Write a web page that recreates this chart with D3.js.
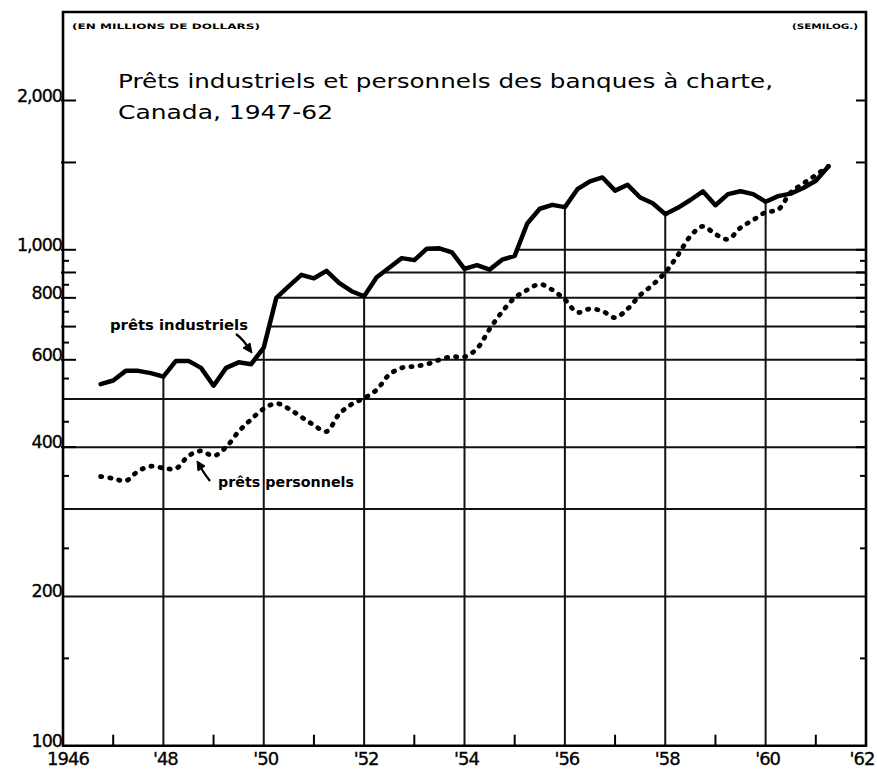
<!DOCTYPE html>
<html><head><meta charset="utf-8">
<script src="https://cdn.jsdelivr.net/npm/d3@7"></script>
<style>body{margin:0;background:#fff}svg{display:block}</style>
</head><body><svg id="c" width="877" height="769"></svg>
<script>
// ---- data (millions of dollars, quarterly) ----
const quarters = [1946.75,
  1947.00,1947.25,1947.50,1947.75,1948.00,1948.25,1948.50,1948.75,
  1949.00,1949.25,1949.50,1949.75,1950.00,1950.25,1950.50,1950.75,
  1951.00,1951.25,1951.50,1951.75,1952.00,1952.25,1952.50,1952.75,
  1953.00,1953.25,1953.50,1953.75,1954.00,1954.25,1954.50,1954.75,
  1955.00,1955.25,1955.50,1955.75,1956.00,1956.25,1956.50,1956.75,
  1957.00,1957.25,1957.50,1957.75,1958.00,1958.25,1958.50,1958.75,
  1959.00,1959.25,1959.50,1959.75,1960.00,1960.25,1960.50,1960.75,
  1961.00,1961.25];
const industriels = [536,
  545,570,570,564,555,597,597,578,
  532,578,593,588,635,800,845,890,
  876,907,858,825,806,880,920,962,
  953,1005,1007,988,915,931,912,955,
  972,1130,1210,1232,1219,1325,1374,1399,
  1316,1352,1275,1241,1180,1215,1260,1312,
  1230,1295,1312,1295,1250,1283,1298,1332,
  1378,1472];
const personnels = [349,
  346,342,358,366,363,362,384,393,
  384,400,430,455,478,490,478,460,
  443,430,466,488,502,522,560,578,
  582,588,600,609,608,632,692,750,
  800,830,852,830,793,748,760,752,
  730,760,810,850,900,975,1065,1115,
  1075,1050,1108,1148,1190,1205,1305,1360,
  1415,1474];

const yLabelValues = [100,200,400,600,800,1000,2000];
const yLabelTexts  = ["100","200","400","600","800","1,000","2,000"];
const yMajorTicks  = [400,600,700,800,900,1000,1500,2000];
const yMinorTicks  = [150,250,350,450,550,650,750,850,950];
const yGridValues  = [200,300,400,500,600,700,800,900,1000];
const xGridYears   = [1948,1950,1952,1954,1956,1958,1960];
const xMinorYears  = [1947,1949,1951,1953,1955,1957,1959,1961];
const xLabelYears  = [1946,1948,1950,1952,1954,1956,1958,1960,1962];
const xLabelTexts  = ["1946","'48","'50","'52","'54","'56","'58","'60","'62"];

// ---- layout ----
const L = 63, R = 866, T = 12, B = 745.7;
const svg = d3.select("#c");
const x = d3.scaleLinear().domain([1946,1962]).range([L,R]);
const y = d3.scaleLog().domain([100,2000]).range([B,100.5]);
const FONT = "'DejaVu Sans', sans-serif";

const indPts = quarters.map((q,i)=>[q, industriels[i]]);
const perPts = quarters.map((q,i)=>[q, personnels[i]]);

// clip: region under the industrial curve
const clipData = [[1946, industriels[0]], ...indPts, [1962, industriels[industriels.length-1]]];
svg.append("clipPath").attr("id","under")
  .append("path")
  .attr("d", d3.area().x(d=>x(d[0])).y0(B).y1(d=>y(d[1]))(clipData));

const grid = svg.append("g").attr("clip-path","url(#under)")
  .attr("stroke","#111").attr("stroke-width",2);
grid.selectAll("line.h").data(yGridValues).join("line")
  .attr("x1",L).attr("x2",R).attr("y1",d=>y(d)).attr("y2",d=>y(d));
grid.selectAll("line.v").data(xGridYears).join("line")
  .attr("x1",d=>x(d)).attr("x2",d=>x(d)).attr("y1",B).attr("y2",T);

// frame
const frame = svg.append("g").attr("stroke","#000").attr("fill","none");
frame.append("path").attr("stroke-width",2.6)
  .attr("d",`M${L},${B}V${T}H${R}V${B}H${L}Z`);

// ticks
const ticks = svg.append("g").attr("stroke","#000").attr("stroke-width",2);
ticks.selectAll("line.lm").data(yMajorTicks).join("line")
  .attr("x1",L-2).attr("x2",L+13).attr("y1",d=>y(d)).attr("y2",d=>y(d));
ticks.selectAll("line.ln").data(yMinorTicks).join("line")
  .attr("x1",L).attr("x2",L+6).attr("y1",d=>y(d)).attr("y2",d=>y(d));
ticks.selectAll("line.rm").data(yMajorTicks).join("line")
  .attr("x1",R-10).attr("x2",R).attr("y1",d=>y(d)).attr("y2",d=>y(d));
ticks.selectAll("line.rn").data(yMinorTicks).join("line")
  .attr("x1",R-6).attr("x2",R).attr("y1",d=>y(d)).attr("y2",d=>y(d));
ticks.selectAll("line.xm").data(xMinorYears).join("line")
  .attr("x1",d=>x(d)).attr("x2",d=>x(d)).attr("y1",B).attr("y2",B-11);

// y labels
svg.append("g").selectAll("text").data(yLabelValues).join("text")
  .attr("x",L-1).attr("y",d=>y(d)+1).attr("text-anchor","end")
  .attr("font-family",FONT).attr("font-size",17.5).attr("letter-spacing",-1)
  .attr("stroke","#000").attr("stroke-width",0.3)
  .text((d,i)=>yLabelTexts[i]);

// x labels
svg.append("g").selectAll("text").data(xLabelYears).join("text")
  .attr("x",(d,i)=> i===0 ? x(d)+5 : (i===xLabelYears.length-1 ? x(d)-4 : x(d)+2))
  .attr("y",765).attr("text-anchor","middle")
  .attr("font-family",FONT).attr("font-size",18).attr("letter-spacing",-1)
  .attr("stroke","#000").attr("stroke-width",0.3)
  .text((d,i)=>xLabelTexts[i]);

// lines
svg.append("path").attr("fill","none").attr("stroke","#000").attr("stroke-width",4.5)
  .attr("stroke-linejoin","round").attr("stroke-linecap","round")
  .attr("d", d3.line().x(d=>x(d[0])).y(d=>y(d[1]))(indPts));
svg.append("path").attr("fill","none").attr("stroke","#000").attr("stroke-width",4.8)
  .attr("stroke-linecap","round").attr("stroke-dasharray","1.2 8")
  .attr("d", d3.line().x(d=>x(d[0])).y(d=>y(d[1])).curve(d3.curveCatmullRom)(perPts));

// texts
svg.append("text").attr("x",72).attr("y",29).attr("font-family",FONT)
  .attr("font-weight","bold").attr("font-size",7.5).attr("textLength",188)
  .attr("lengthAdjust","spacingAndGlyphs").text("(EN MILLIONS DE DOLLARS)");
svg.append("text").attr("x",858).attr("y",29).attr("font-family",FONT)
  .attr("font-weight","bold").attr("font-size",7.5).attr("text-anchor","end")
  .attr("textLength",66).attr("lengthAdjust","spacingAndGlyphs").text("(SEMILOG.)");

svg.append("text").attr("x",118).attr("y",88).attr("font-family",FONT)
  .attr("font-size",19).attr("textLength",655).attr("lengthAdjust","spacingAndGlyphs")
  .text("Prêts industriels et personnels des banques à charte,");
svg.append("text").attr("x",118).attr("y",119).attr("font-family",FONT)
  .attr("font-size",19).attr("textLength",215).attr("lengthAdjust","spacingAndGlyphs")
  .text("Canada, 1947-62");

svg.append("text").attr("x",110).attr("y",330).attr("font-family",FONT)
  .attr("font-weight","bold").attr("font-size",14).attr("textLength",138)
  .attr("lengthAdjust","spacingAndGlyphs").text("prêts industriels");
svg.append("text").attr("x",218).attr("y",487).attr("font-family",FONT)
  .attr("font-weight","bold").attr("font-size",14).attr("textLength",136)
  .attr("lengthAdjust","spacingAndGlyphs").text("prêts personnels");

// arrows
const arr = svg.append("g").attr("fill","none").attr("stroke","#000").attr("stroke-width",2.2);
arr.append("path").attr("d","M236,334 Q244,340 249,349");
arr.append("path").attr("fill","#000").attr("stroke-width",1)
  .attr("d","M252,353 L243,348 L250,343 Z");
arr.append("path").attr("d","M210,481 Q203,472 200,466");
arr.append("path").attr("fill","#000").attr("stroke-width",1)
  .attr("d","M197,461 L205,466 L198,471 Z");
</script></body></html>
